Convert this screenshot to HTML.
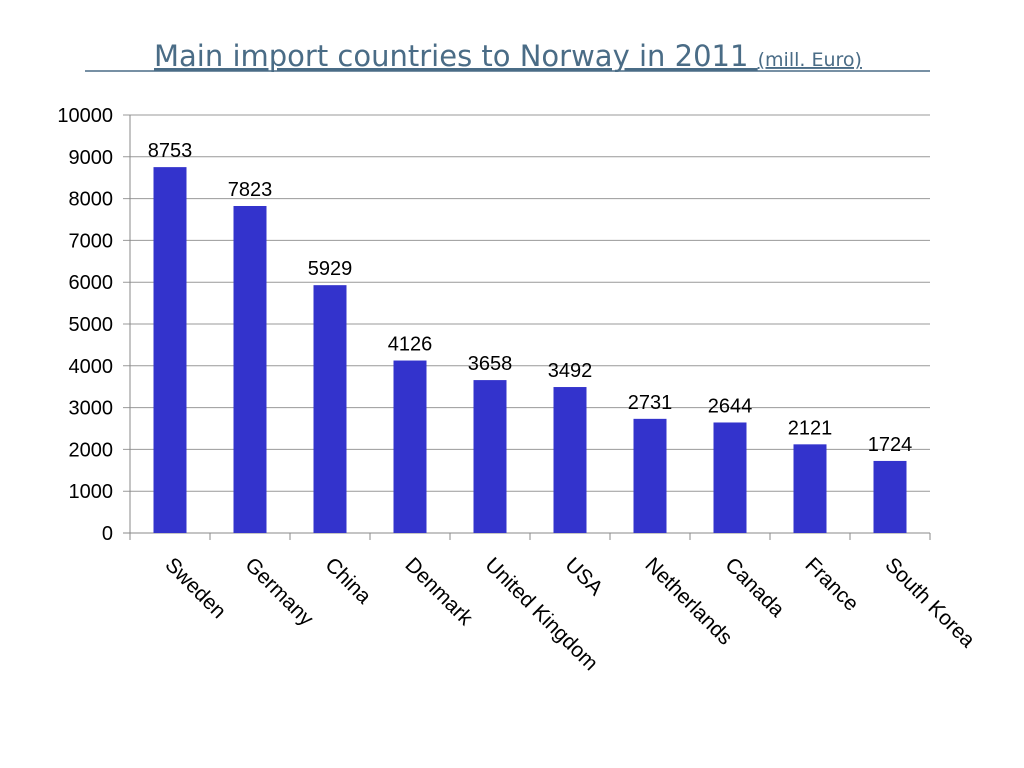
<!DOCTYPE html>
<html><head><meta charset="utf-8"><style>
body{margin:0;background:#fff;width:1024px;height:768px;overflow:hidden}
svg{display:block}
</style></head><body>
<svg width="1024" height="768">
<text x="508" y="66" text-anchor="middle" fill="#4a6c86" font-family="DejaVu Sans, sans-serif" font-size="29" text-decoration="underline">Main import countries to Norway in 2011 <tspan font-size="19">(mill. Euro)</tspan></text>
<line x1="85" y1="71" x2="930" y2="71" stroke="#4a6c86" stroke-width="1.5"/>
<g id="grid"></g><g id="bars"></g><g id="labels"></g>
</svg>
<script>
const categories=["Sweden","Germany","China","Denmark","United Kingdom","USA","Netherlands","Canada","France","South Korea"];
const values=[8753,7823,5929,4126,3658,3492,2731,2644,2121,1724];
const ticks=[0,1000,2000,3000,4000,5000,6000,7000,8000,9000,10000];
const NS="http://www.w3.org/2000/svg";
const x0=130,x1=930,y0=533,yTop=115,maxV=10000;
const bw=(x1-x0)/categories.length;
const y=v=>y0-(v/maxV)*(y0-yTop);
const xc=i=>x0+bw*(i+0.5);
function mk(t,a,p){const e=document.createElementNS(NS,t);for(const k in a)e.setAttribute(k,a[k]);p.appendChild(e);return e;}
const g=document.getElementById('grid'),b=document.getElementById('bars'),l=document.getElementById('labels');
ticks.forEach(t=>{
 const ln=mk('line',{x1:x0-7,x2:x1,y1:y(t),y2:y(t),stroke:t===0?'#888':'#999','stroke-width':1},g);
 
 
 const tx=mk('text',{x:x0-17,y:y(t)+7,'text-anchor':'end','font-family':'Liberation Sans, sans-serif','font-size':20,fill:'#000'},g);
 tx.textContent=t;
 
 
});
const ax=mk('line',{x1:x0,x2:x0,y1:yTop,y2:y0,stroke:'#888'},g);


for(let i=0;i<=categories.length;i++){
 const tk=mk('line',{x1:x0+bw*i,x2:x0+bw*i,y1:y0,y2:y0+7,stroke:'#888'},g);
 
 
}
categories.forEach((c,i)=>{
 const v=values[i];
 const r=mk('rect',{x:xc(i)-16.5,y:y(v),width:33,height:y0-y(v),fill:'#3333cc'},b);
 
 
 const vt=mk('text',{x:xc(i),y:y(v)-10,'text-anchor':'middle','font-family':'Liberation Sans, sans-serif','font-size':20,fill:'#000'},b);
 vt.textContent=v;
 
 
 const lx=xc(i)-6,ly=566;
 const ct=mk('text',{x:lx,y:ly,transform:`rotate(45 ${lx} ${ly})`,'font-family':'Liberation Sans, sans-serif','font-size':21,fill:'#000'},l);
 ct.textContent=c;
 
 
});
</script>
</body></html>
